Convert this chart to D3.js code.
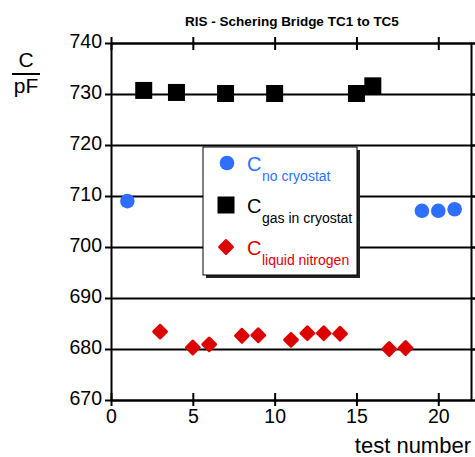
<!DOCTYPE html>
<html>
<head>
<meta charset="utf-8">
<script src="https://cdn.jsdelivr.net/npm/d3@7"></script>
<style>
  body { margin: 0; background: #fff; }
  svg text { font-family: Arial, "Liberation Sans", sans-serif; }
</style>
</head>
<body>
<svg id="chart" width="475" height="457"></svg>
<script>
// test number / capacitance in pF
const noCryoX = [1, 19, 20, 21];
const noCryoY = [709.0, 707.1, 707.1, 707.4];
const gasX = [2, 4, 7, 10, 15, 16];
const gasY = [730.7, 730.3, 730.1, 730.1, 730.1, 731.6];
const ln2X = [3, 5, 6, 8, 9, 11, 12, 13, 14, 17, 18];
const ln2Y = [683.4, 680.3, 680.9, 682.6, 682.7, 681.8, 683.1, 683.1, 683.0, 680.0, 680.2];
const xTicks = [0, 5, 10, 15, 20];
const yTicks = [670, 680, 690, 700, 710, 720, 730, 740];

const blue = "#2f6fff", red = "#dd0000";

const svg = d3.select("#chart");
const pLeft = 111, pRight = 471, pTop = 43, pBottom = 400;

const x = d3.scaleLinear().domain([0, 22]).range([pLeft, pRight]);
const y = d3.scaleLinear().domain([670, 740]).range([pBottom, pTop]);

// grid lines
svg.append("g")
  .attr("transform", "translate(" + pLeft + ",0)")
  .call(d3.axisLeft(y).tickValues(yTicks).tickSize(-(pRight - pLeft + 4)).tickFormat(""))
  .call(g => g.select(".domain").remove())
  .selectAll("line").attr("stroke", "#000").attr("stroke-width", 2);

// left axis with labels
svg.append("g")
  .attr("transform", "translate(" + pLeft + ",0)")
  .call(d3.axisLeft(y).tickValues(yTicks).tickSize(6).tickSizeOuter(0).tickPadding(3))
  .call(g => g.selectAll("line").attr("stroke-width", 2))
  .call(g => g.select(".domain").attr("stroke-width", 2))
  .selectAll("text").attr("font-size", 19.5).attr("fill", "#000").attr("dy", "0.22em");

// bottom axis
svg.append("g")
  .attr("transform", "translate(0," + pBottom + ")")
  .call(d3.axisBottom(x).tickValues(xTicks).tickSize(6).tickSizeOuter(0).tickPadding(3))
  .call(g => g.selectAll(".tick line").attr("y1", -7).attr("stroke-width", 2))
  .call(g => g.select(".domain").attr("stroke-width", 2))
  .selectAll("text").attr("font-size", 19.5).attr("fill", "#000");

// top axis, ticks only
svg.append("g")
  .attr("transform", "translate(0," + pTop + ")")
  .call(d3.axisTop(x).tickValues(xTicks).tickSize(6).tickSizeOuter(0).tickFormat(""))
  .call(g => g.selectAll(".tick line").attr("y1", 7).attr("stroke-width", 2))
  .call(g => g.select(".domain").attr("stroke-width", 2));

// right axis, ticks only
svg.append("g")
  .attr("transform", "translate(" + pRight + ",0)")
  .call(d3.axisRight(y).tickValues(yTicks).tickSize(4).tickSizeOuter(0).tickFormat(""))
  .call(g => g.selectAll("line").attr("stroke-width", 2))
  .call(g => g.select(".domain").attr("stroke-width", 2));

// title
svg.append("text")
  .attr("x", 292).attr("y", 26)
  .attr("text-anchor", "middle")
  .attr("font-size", 13.5).attr("font-weight", "bold")
  .text("RIS - Schering Bridge TC1 to TC5");

// y label C / pF
svg.append("text").attr("x", 26).attr("y", 67).attr("text-anchor", "middle")
  .attr("font-size", 21).text("C");
svg.append("line").attr("x1", 12).attr("x2", 40).attr("y1", 74).attr("y2", 74)
  .attr("stroke", "#000").attr("stroke-width", 2);
svg.append("text").attr("x", 26).attr("y", 93).attr("text-anchor", "middle")
  .attr("font-size", 21).text("pF");

// x label
svg.append("text").attr("x", 471).attr("y", 453).attr("text-anchor", "end")
  .attr("font-size", 22).text("test number");

// markers
const sq = 17, dia = 12;
svg.append("g").selectAll("rect")
  .data(d3.zip(gasX, gasY)).join("rect")
  .attr("x", d => x(d[0]) - sq / 2).attr("y", d => y(d[1]) - sq / 2)
  .attr("width", sq).attr("height", sq).attr("fill", "#000");

svg.append("g").selectAll("circle")
  .data(d3.zip(noCryoX, noCryoY)).join("circle")
  .attr("cx", d => x(d[0])).attr("cy", d => y(d[1]))
  .attr("r", 7.3).attr("fill", blue);

svg.append("g").selectAll("rect")
  .data(d3.zip(ln2X, ln2Y)).join("rect")
  .attr("x", -dia / 2).attr("y", -dia / 2).attr("width", dia).attr("height", dia)
  .attr("rx", 1.5)
  .attr("transform", d => "translate(" + x(d[0]) + "," + y(d[1]) + ") rotate(45)")
  .attr("fill", red);

// legend
const lg = svg.append("g");
lg.append("rect").attr("x", 206).attr("y", 150).attr("width", 154).attr("height", 128).attr("fill", "#222");
lg.append("rect").attr("x", 203).attr("y", 147).attr("width", 154).attr("height", 128)
  .attr("fill", "#fff").attr("stroke", "#000").attr("stroke-width", 1);

lg.append("circle").attr("cx", 227).attr("cy", 163).attr("r", 7.3).attr("fill", blue);
lg.append("rect").attr("x", 226 - sq / 2).attr("y", 205 - sq / 2).attr("width", sq).attr("height", sq).attr("fill", "#000");
lg.append("rect").attr("x", -dia / 2).attr("y", -dia / 2).attr("width", dia).attr("height", dia).attr("rx", 1.5)
  .attr("transform", "translate(226,247) rotate(45)").attr("fill", red);

const entries = [
  { sub: "no cryostat", color: blue, base: 171 },
  { sub: "gas in cryostat", color: "#000", base: 213 },
  { sub: "liquid nitrogen", color: red, base: 255 }
];
entries.forEach(e => {
  lg.append("text").attr("x", 247).attr("y", e.base).attr("font-size", 20)
    .attr("fill", e.color).text("C");
  lg.append("text").attr("x", 262).attr("y", e.base + 10).attr("font-size", 14)
    .attr("fill", e.color).text(e.sub);
});
</script>
</body>
</html>
